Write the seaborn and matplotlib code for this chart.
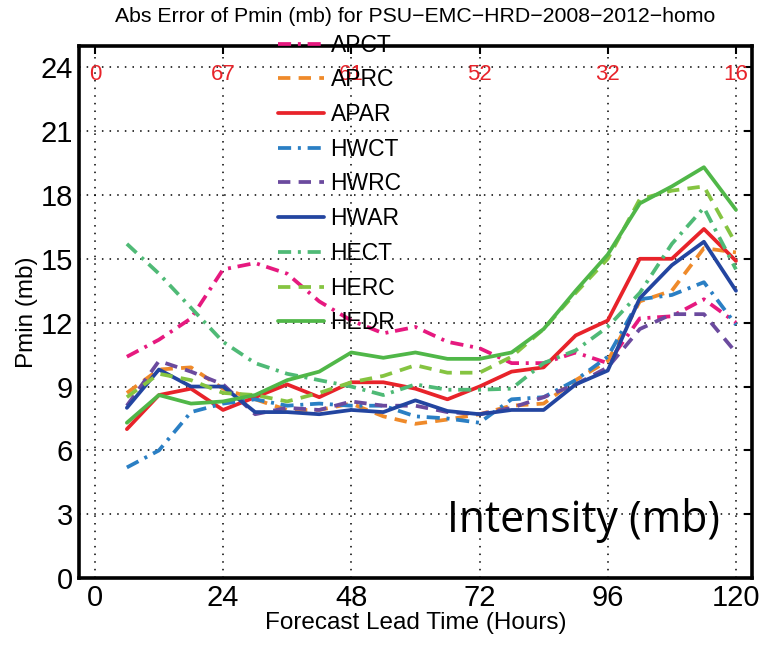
import numpy as np
import pandas as pd
import matplotlib
matplotlib.use('Agg')
import matplotlib.pyplot as plt
import seaborn as sns

hours = [6, 12, 18, 24, 30, 36, 42, 48, 54, 60, 66, 72, 78, 84, 90, 96, 102, 108, 114, 120]
apct = [10.4, 11.2, 12.2, 14.5, 14.8, 14.3, 13.0, 12.1, 11.5, 11.8, 11.1, 10.8, 10.1, 10.1, 10.6, 10.1, 12.2, 12.3, 13.1, 12.0]
aprc = [8.7, 9.8, 9.9, 8.9, 8.4, 7.9, 7.9, 8.2, 7.6, 7.25, 7.45, 7.7, 8.1, 8.2, 9.3, 10.2, 13.0, 13.5, 15.5, 15.3]
apar = [7.0, 8.6, 8.9, 7.9, 8.5, 9.1, 8.5, 9.2, 9.2, 8.9, 8.4, 9.0, 9.7, 9.9, 11.4, 12.1, 15.0, 15.0, 16.4, 14.9]
hwct = [5.2, 6.0, 7.8, 8.2, 8.4, 8.1, 8.2, 8.1, 8.1, 7.6, 7.5, 7.3, 8.4, 8.5, 9.3, 10.4, 13.1, 13.3, 13.9, 11.9]
hwrc = [8.1, 10.2, 9.7, 9.1, 7.7, 8.0, 7.9, 8.3, 8.1, 8.1, 7.8, 7.7, 8.0, 8.5, 9.1, 9.9, 11.7, 12.4, 12.4, 10.6]
hwar = [8.0, 9.8, 9.0, 9.0, 7.8, 7.8, 7.7, 7.9, 7.8, 8.35, 7.85, 7.7, 7.9, 7.9, 9.1, 9.75, 13.15, 14.7, 15.8, 13.5]
hect = [15.7, 14.3, 12.7, 11.1, 10.1, 9.6, 9.3, 9.0, 8.6, 9.1, 8.85, 8.85, 8.9, 10.1, 10.7, 11.8, 13.4, 15.7, 17.4, 14.5]
herc = [8.5, 9.6, 9.3, 8.7, 8.6, 8.3, 8.7, 9.2, 9.5, 10.0, 9.65, 9.65, 10.4, 11.7, 13.4, 15.0, 17.8, 18.2, 18.4, 15.7]
hedr = [7.3, 8.6, 8.2, 8.3, 8.6, 9.3, 9.7, 10.6, 10.35, 10.6, 10.3, 10.3, 10.6, 11.7, 13.5, 15.2, 17.6, 18.4, 19.3, 17.3]

models = ['APCT', 'APRC', 'APAR', 'HWCT', 'HWRC', 'HWAR', 'HECT', 'HERC', 'HEDR']
series = [apct, aprc, apar, hwct, hwrc, hwar, hect, herc, hedr]
colors = ['#e6197f', '#ef8a2a', '#e8232a', '#2a7fc4', '#6b4a9e', '#2345a0', '#4fba76', '#85c441', '#50b748']
count_hours = [0, 24, 48, 72, 96, 120]
counts = ['0', '67', '61', '52', '32', '16']

dash = (3.3, 2.2)
dashdot = (3.5, 1.8, 0.8, 1.8)
dash_map = {'APCT': dashdot, 'APRC': dash, 'APAR': '', 'HWCT': dashdot, 'HWRC': dash,
            'HWAR': '', 'HECT': dashdot, 'HERC': dash, 'HEDR': ''}

df = pd.DataFrame({
    'hour': hours * len(models),
    'err': np.concatenate(series),
    'model': np.repeat(models, len(hours)),
})

sns.set_style('white')
plt.rcParams['font.family'] = ['Liberation Sans', 'DejaVu Sans']
plt.rcParams['text.color'] = 'black'
plt.rcParams['axes.labelcolor'] = 'black'

fig = plt.figure(figsize=(7.65, 6.46), dpi=100)
ax = fig.add_axes([0.103, 0.105, 0.880, 0.824])

sns.lineplot(data=df, x='hour', y='err', hue='model', style='model', hue_order=models,
             style_order=models, palette=colors, dashes=dash_map, lw=2.7, ax=ax)

ax.set_xlim(-3, 123)
ax.set_ylim(0, 25)
ax.set_xticks(count_hours)
ax.set_yticks(np.arange(0, 25, 3))
ax.grid(True, color='black', linestyle=(0, (1, 4)), linewidth=1.1)
ax.tick_params(direction='in', length=6, width=1.5, labelsize=21, top=True, right=True,
               colors='black', labelcolor='black', pad=4)
for sp in ax.spines.values():
    sp.set_linewidth(2.6)
    sp.set_color('black')

# sample counts along the top
for h, c in zip(count_hours, counts):
    ax.text(h, 23.65, c, color='#e8232a', fontsize=16, ha='center', va='center')

ax.set_title('Abs Error of Pmin (mb) for PSU\u2212EMC\u2212HRD\u22122008\u22122012\u2212homo',
             fontsize=15.3, pad=17, color='black')
ax.set_xlabel('Forecast Lead Time (Hours)', fontsize=17.5, labelpad=0)
ax.set_ylabel('Pmin (mb)', fontsize=17.5, labelpad=2)

ax.text(0.952, 0.108, 'Intensity (mb)', transform=ax.transAxes, fontsize=30.8,
        family=['Open Sans', 'DejaVu Sans'], ha='right', va='center', color='black')

handles, labels = ax.get_legend_handles_labels()
ax.get_legend().remove()
leg = ax.legend(handles, labels, loc='upper left', bbox_to_anchor=(0.282, 1.04), frameon=False,
                fontsize=16.5, handlelength=2.0, handletextpad=0.3, labelspacing=0.51,
                borderaxespad=0)

fig.savefig('out.png', dpi=100)
